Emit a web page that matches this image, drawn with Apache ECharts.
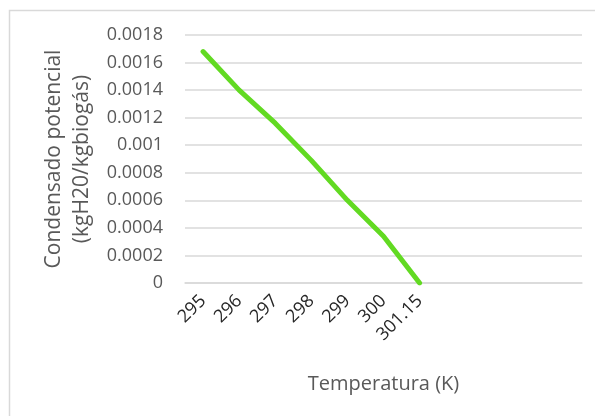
<!DOCTYPE html>
<html>
<head>
<meta charset="utf-8">
<script src="https://cdn.jsdelivr.net/npm/echarts@6/dist/echarts.min.js"></script>
<style>
html, body { margin: 0; padding: 0; background: #fff; }
#chart { width: 595px; height: 416px; }
</style>
</head>
<body>
<div id="chart"></div>
<script>
// temperaturas (K); the last empty slots keep Excel's spacing
const temperatures = ['295', '296', '297', '298', '299', '300', '301.15', '', '', '', ''];
// condensado potencial (kgH20/kgbiogás)
const condensate = [0.00168, 0.00140, 0.00116, 0.00089, 0.00060, 0.00034, 0];
const yTicks = [0, 0.0002, 0.0004, 0.0006, 0.0008, 0.001, 0.0012, 0.0014, 0.0016, 0.0018];

const font = '"Open Sans", "DejaVu Sans", sans-serif';
const chart = echarts.init(document.getElementById('chart'));

const option = {
    animation: false,
    backgroundColor: '#fff',
    textStyle: { fontFamily: font },
    graphic: [
        {
            type: 'rect',
            shape: { x: 9.5, y: 10.5, width: 600, height: 420 },
            style: { fill: 'none', stroke: '#d9d9d9', lineWidth: 1.5 },
            silent: true
        }
    ],
    grid: { left: 185, right: 13, top: 35, bottom: 133 },
    xAxis: {
        type: 'category',
        data: temperatures,
        boundaryGap: true,
        name: 'Temperatura (K)',
        nameLocation: 'middle',
        nameGap: 91,
        nameTextStyle: { color: '#595959', fontSize: 20, fontFamily: font },
        axisLine: { lineStyle: { color: '#d9d9d9', width: 1.5 } },
        axisTick: { show: false },
        axisLabel: {
            rotate: 45,
            interval: 0,
            margin: 15,
            color: '#262626',
            fontSize: 18,
            fontFamily: font
        }
    },
    yAxis: {
        type: 'value',
        min: 0,
        max: yTicks[yTicks.length - 1],
        interval: 0.0002,
        name: 'Condensado potencial\n(kgH20/kgbiogás)',
        nameLocation: 'middle',
        nameGap: 88,
        nameTextStyle: { color: '#595959', fontSize: 21, lineHeight: 28, fontFamily: font },
        axisLine: { show: false },
        axisTick: { show: false },
        splitLine: { lineStyle: { color: '#d9d9d9', width: 1.5 } },
        axisLabel: {
            margin: 22,
            color: '#595959',
            fontSize: 18,
            fontFamily: font,
            formatter: (v) => String(parseFloat(v.toFixed(4)))
        }
    },
    series: [
        {
            name: 'Condensado',
            type: 'line',
            data: condensate,
            showSymbol: false,
            symbol: 'none',
            lineStyle: { color: '#62da22', width: 5, cap: 'round' },
            itemStyle: { color: '#62da22' }
        }
    ]
};
chart.setOption(option);
</script>
</body>
</html>
